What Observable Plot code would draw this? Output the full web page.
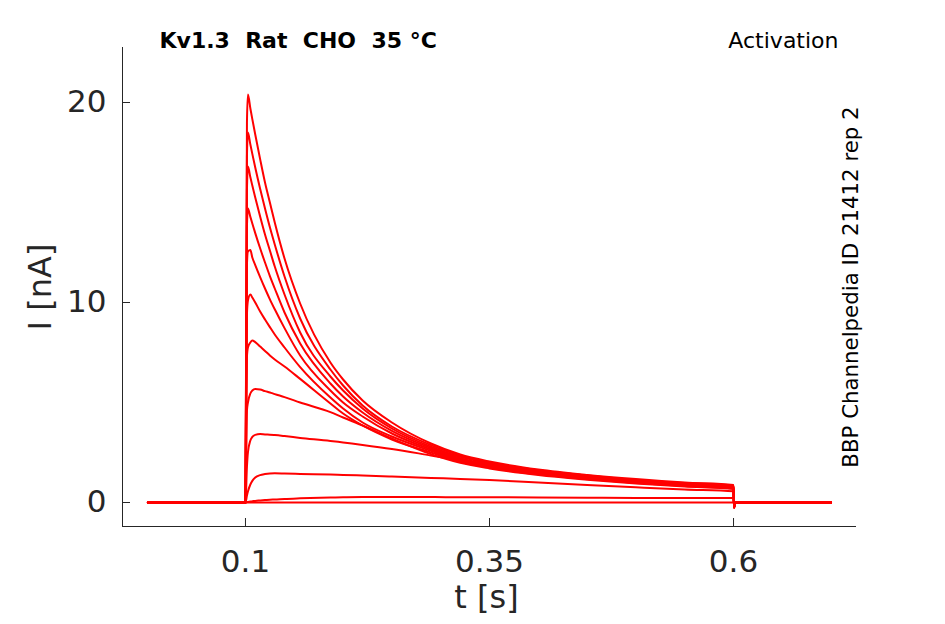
<!DOCTYPE html>
<html>
<head>
<meta charset="utf-8">
<script src="https://cdn.jsdelivr.net/npm/d3@7"></script>
<script src="https://cdn.jsdelivr.net/npm/@observablehq/plot@0.6"></script>
<style>
  html, body { margin: 0; padding: 0; background: #ffffff; }
  #chart svg { display: block; }
</style>
</head>
<body>
<div id="chart"></div>
<script>
// ---- Data ----
const titleText = "Kv1.3  Rat  CHO  35 °C";
const protocolText = "Activation";
const sourceText = "BBP Channelpedia ID 21412 rep 2";
const xLabel = "t [s]";
const yLabel = "I [nA]";
const xTicks = [0.1, 0.35, 0.6];
const yTicks = [0, 10, 20];

// sample times (s) before and during the step
const tGrid = [0, 0.1, 0.1015, 0.1025, 0.105, 0.107, 0.11, 0.115, 0.12, 0.125, 0.13, 0.14,
               0.156, 0.187, 0.2, 0.22, 0.25, 0.29, 0.32, 0.35, 0.4, 0.45, 0.5, 0.55, 0.6];
// times after the step ends
const tailTimes = [0.6005, 0.602, 0.7];

// current (nA) of each sweep at tGrid
const sweep1  = [0, 0, 19.0, 20.4, 19.7, 19.17, 18.4, 17.17, 16.0, 15.0, 14.0, 12.2, 9.95, 7.0, 6.15, 5.1, 4.0, 2.95, 2.4, 2.05, 1.65, 1.38, 1.17, 1.0, 0.88];
const sweep2  = [0, 0, 17.3, 18.5, 17.9, 17.43, 16.75, 15.69, 14.7, 13.76, 12.9, 11.3, 9.2, 6.65, 5.85, 4.85, 3.8, 2.87, 2.34, 2.0, 1.61, 1.34, 1.13, 0.97, 0.85];
const sweep3  = [0, 0, 15.6, 16.8, 16.26, 15.85, 15.25, 14.3, 13.4, 12.6, 11.8, 10.4, 8.5, 6.3, 5.6, 4.7, 3.7, 2.79, 2.28, 1.95, 1.57, 1.3, 1.1, 0.94, 0.82];
const sweep4  = [0, 0, 13.8, 14.7, 14.28, 13.95, 13.47, 12.71, 12.0, 11.32, 10.7, 9.5, 7.95, 5.95, 5.3, 4.5, 3.58, 2.72, 2.22, 1.9, 1.53, 1.27, 1.07, 0.91, 0.79];
const sweep5  = [0, 0, 11.9, 12.55, 12.62, 12.25, 11.87, 11.27, 10.7, 10.16, 9.66, 8.72, 7.35, 5.6, 5.0, 4.3, 3.45, 2.65, 2.16, 1.85, 1.49, 1.23, 1.04, 0.88, 0.76];
const sweep6  = [0, 0, 9.4, 10.1, 10.4, 10.25, 10.0, 9.55, 9.15, 8.77, 8.4, 7.75, 6.77, 5.25, 4.7, 4.0, 3.3, 2.58, 2.1, 1.8, 1.45, 1.2, 1.01, 0.85, 0.73];
const sweep7  = [0, 0, 7.3, 7.75, 8.0, 8.1, 8.02, 7.8, 7.58, 7.35, 7.15, 6.8, 6.18, 4.95, 4.45, 3.85, 3.15, 2.5, 2.04, 1.75, 1.41, 1.17, 0.98, 0.82, 0.7];
const sweep8  = [0, 0, 4.6, 5.0, 5.45, 5.6, 5.68, 5.65, 5.57, 5.5, 5.42, 5.27, 5.0, 4.52, 4.25, 3.85, 3.2, 2.42, 1.98, 1.7, 1.37, 1.14, 0.95, 0.8, 0.67];
const sweep9  = [0, 0, 1.8, 2.5, 3.1, 3.28, 3.38, 3.42, 3.4, 3.39, 3.37, 3.32, 3.23, 3.08, 3.0, 2.88, 2.68, 2.35, 2.1, 1.9, 1.6, 1.35, 1.12, 0.95, 0.82];
const sweep10 = [0, 0, 0.35, 0.55, 0.9, 1.08, 1.25, 1.37, 1.42, 1.45, 1.46, 1.45, 1.43, 1.4, 1.38, 1.35, 1.3, 1.23, 1.18, 1.12, 1.0, 0.88, 0.76, 0.65, 0.56];
const sweep11 = [0, 0, 0.02, 0.03, 0.05, 0.06, 0.08, 0.1, 0.12, 0.14, 0.15, 0.18, 0.21, 0.25, 0.26, 0.27, 0.27, 0.27, 0.26, 0.26, 0.25, 0.24, 0.23, 0.23, 0.22];
const sweep12 = [0, 0, 0, 0, 0, 0, 0, 0, 0, 0, 0, 0, 0, 0, 0, 0, 0, 0, 0, 0, 0, 0, 0, 0, 0];

// tail current after the step (nA) at tailTimes
const tail1  = [-0.25, 0, 0];
const tail11 = [-0.05, 0, 0];
const tail12 = [0, 0, 0];

const sweeps = [sweep1, sweep2, sweep3, sweep4, sweep5, sweep6, sweep7, sweep8, sweep9, sweep10, sweep11, sweep12];
const tails  = [tail1, tail1, tail1, tail1, tail1, tail1, tail1, tail1, tail1, tail1, tail11, tail12];

// ---- Build table ----
const rows = [];
sweeps.forEach((vals, k) => {
  vals.forEach((v, j) => rows.push({sweep: k, t: tGrid[j], i: v}));
  tails[k].forEach((v, j) => rows.push({sweep: k, t: tailTimes[j], i: v}));
});

const axisColor = "#262626";
const xDomain = [-0.026, 0.726];
const yDomain = [-1.2, 22.75];

const chart = Plot.plot({
  width: 945,
  height: 624,
  marginLeft: 122,
  marginRight: 89,
  marginTop: 47,
  marginBottom: 98,
  style: {fontFamily: "DejaVu Sans", background: "#ffffff", color: axisColor, overflow: "visible"},
  x: {domain: xDomain},
  y: {domain: yDomain},
  marks: [
    Plot.line(rows, {x: "t", y: "i", z: "sweep", stroke: "#ff0000", strokeWidth: 2, curve: "monotone-x"}),
    Plot.ruleX([xDomain[0]], {stroke: axisColor, strokeWidth: 1}),
    Plot.ruleY([yDomain[0]], {stroke: axisColor, strokeWidth: 1}),
    Plot.tickX(xTicks, {x: d => d, insetTop: 471, stroke: axisColor, strokeWidth: 1}),
    Plot.tickY(yTicks, {y: d => d, insetRight: 726, stroke: axisColor, strokeWidth: 1}),
    Plot.axisX(xTicks, {tickSize: 0, tickPadding: 23, fontSize: 31, label: null, tickFormat: d => String(d), fill: axisColor}),
    Plot.axisY(yTicks, {tickSize: 0, tickPadding: 16, fontSize: 31, label: null, tickFormat: d => String(d), fill: axisColor}),
    Plot.text([xLabel], {text: d => d, frameAnchor: "bottom", dx: -3, dy: 81, textAnchor: "middle", lineAnchor: "bottom", fontSize: 32, fill: axisColor}),
    Plot.text([yLabel], {text: d => d, frameAnchor: "left", dx: -72, rotate: -90, textAnchor: "middle", lineAnchor: "bottom", fontSize: 32, fill: axisColor}),
    Plot.text([titleText], {text: d => d, frameAnchor: "top-left", dx: 37, textAnchor: "start", lineAnchor: "bottom", fontSize: 22, fontWeight: "bold", fill: "#000000"}),
    Plot.text([protocolText], {text: d => d, frameAnchor: "top-right", dx: -18, textAnchor: "end", lineAnchor: "bottom", fontSize: 22, fill: "#000000"}),
    Plot.text([sourceText], {text: d => d, frameAnchor: "right", dx: 1, rotate: -90, textAnchor: "middle", lineAnchor: "bottom", fontSize: 21.3, fill: "#000000"})
  ]
});

chart.querySelectorAll("text").forEach(t => {
  t.setAttributeNS("http://www.w3.org/XML/1998/namespace", "xml:space", "preserve");
  t.style.whiteSpace = "pre";
});
document.getElementById("chart").appendChild(chart);
</script>
</body>
</html>
